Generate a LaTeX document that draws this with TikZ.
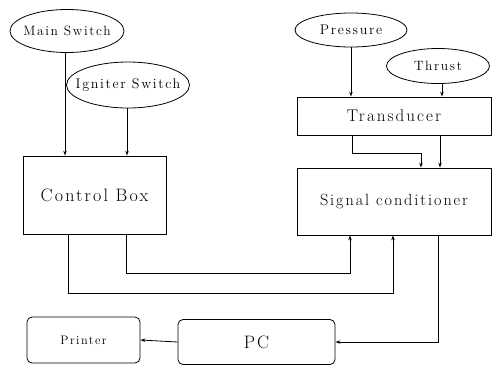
\documentclass[tikz,border=0pt]{standalone}
\usepackage{fontspec}
\setmainfont{Latin Modern Roman}
\usetikzlibrary{shapes.geometric,arrows.meta,calc}
\begin{document}
\begin{tikzpicture}[x=1pt,y=-1pt,
  every path/.style={line width=0.8pt},
  oval/.style={draw,ellipse,inner sep=0pt},
  block/.style={draw,rectangle,inner sep=0pt},
  rbox/.style={draw,rectangle,rounded corners=5pt,inner sep=0pt},
  fs/.style={font=\fontsize{#1}{#1}\selectfont\addfontfeature{LetterSpace=12}},
  arr/.style={-{Stealth[length=5pt,width=3.5pt]}}]
\useasboundingbox (0,0) rectangle (493,365);
% ellipses
\node[oval,minimum width=114pt,minimum height=43pt,label={[fs=13.5]center:Main Switch}] (ms) at (67,31) {};
\node[oval,minimum width=123pt,minimum height=46pt,label={[fs=14]center:Igniter Switch}] (ig) at (128,85) {};
\node[oval,minimum width=112pt,minimum height=34pt,label={[fs=14]center:Pressure}] (pr) at (351,30) {};
\node[oval,minimum width=103pt,minimum height=35pt,label={[fs=13.5]center:Thrust}] (th) at (438,66) {};
% blocks
\node[block,fs=18,minimum width=143pt,minimum height=78pt] (cb) at (94.5,195) {Control Box};
\node[block,fs=17,minimum width=194pt,minimum height=38pt] (tr) at (394,116) {Transducer};
\node[block,fs=16.2,minimum width=194pt,minimum height=67pt] (sc) at (394,201.5) {Signal conditioner};
\node[rbox,fs=18,minimum width=157pt,minimum height=45pt] (pc) at (256.5,342) {PC};
\node[rbox,fs=12.3,minimum width=113pt,minimum height=46pt] (pt) at (83.5,340) {Printer};
% connectors
\draw[arr] (ms.south -| 65,0) -- (cb.north -| 65,0);
\draw[arr] (ig.south -| 127,0) -- (cb.north -| 127,0);
\draw[arr] (pr.south) -- (pr.south |- tr.north);
\draw[arr] (th.south -| 442,0) -- (tr.north -| 442,0);
\draw[arr] (tr.south -| 352,0) -- (352,153) -| (sc.north -| 421,0);
\draw[arr] (tr.south -| 440,0) -- (sc.north -| 440,0);
\draw[arr] (cb.south -| 126,0) |- (350,273) -- (sc.south -| 350,0);
\draw[arr] (cb.south -| 68,0) |- (393,293) -- (sc.south -| 393,0);
\draw[arr] (sc.south -| 438,0) |- (pc.east);
\draw[arr] (pc.west) -- (pt.east);
\end{tikzpicture}
\end{document}
